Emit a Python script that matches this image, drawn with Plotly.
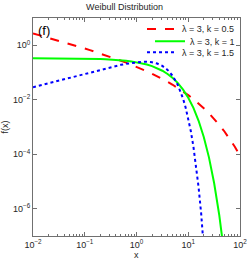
import plotly.graph_objects as go

# x grid (log spaced) and Weibull pdf values read/estimated from the chart (lambda = 3)
x_common = [0.01, 0.01259, 0.01585, 0.01995, 0.02512, 0.03162, 0.03981, 0.05012, 0.0631, 0.07943,
            0.1, 0.1259, 0.1585, 0.1995, 0.2512, 0.3162, 0.3981, 0.5012, 0.631, 0.7943,
            1.0, 1.259, 1.585, 1.995, 2.512, 3.162, 3.981, 5.012, 6.31, 7.943,
            10.0, 12.59, 15.85, 19.95, 25.12, 31.62, 39.81, 50.12, 63.1, 79.43, 100.0]

y_k05 = [2.725, 2.412, 2.132, 1.884, 1.663, 1.465, 1.289, 1.133, 0.9941, 0.8706,
         0.7604, 0.6631, 0.5762, 0.4994, 0.4313, 0.3710, 0.3178, 0.2710, 0.2297, 0.1936,
         0.1621, 0.1346, 0.1109, 0.09044, 0.07293, 0.05813, 0.04571, 0.03540, 0.02695, 0.02012,
         0.01471, 0.01049, 0.007281, 0.004903, 0.003190, 0.001997, 0.001198, 6.843e-4, 3.704e-4, 1.887e-4, 8.975e-5]

x_k1 = x_common[:38]
y_k1 = [0.3322, 0.3320, 0.3316, 0.3311, 0.3305, 0.3298, 0.3289, 0.3278, 0.3264, 0.3246,
        0.3224, 0.3196, 0.3162, 0.3119, 0.3066, 0.3001, 0.2919, 0.2821, 0.2701, 0.2557,
        0.2388, 0.2190, 0.1965, 0.1714, 0.1443, 0.1162, 0.08846, 0.06271, 0.04070, 0.02360,
        0.01189, 0.005017, 0.001693, 4.309e-4, 7.697e-5, 8.809e-6, 5.752e-7, 1.851e-8]

x_k15 = [0.01, 0.01259, 0.01585, 0.01995, 0.02512, 0.03162, 0.03981, 0.05012, 0.0631, 0.07943,
         0.1, 0.1259, 0.1585, 0.1995, 0.2512, 0.3162, 0.3981, 0.5012, 0.631, 0.7943,
         1.0, 1.259, 1.585, 1.995, 2.512, 3.162, 3.981, 5.012, 6.31, 7.079, 7.943, 8.913,
         10.0, 11.22, 12.59, 14.13, 15.85, 17.78, 19.95, 22.39]
y_k15 = [0.02887, 0.03239, 0.03633, 0.04076, 0.04572, 0.05128, 0.05751, 0.06449, 0.07227, 0.08100,
         0.09074, 0.1015, 0.1135, 0.1267, 0.1412, 0.1569, 0.1735, 0.1909, 0.2083, 0.2245,
         0.2381, 0.2468, 0.2475, 0.2370, 0.2127, 0.1739, 0.1249, 0.07457, 0.03434, 0.02047, 0.01095, 5.136e-3,
         0.002077, 6.98e-4, 1.892e-4, 3.963e-5, 6.117e-6, 6.575e-7, 4.584e-8, 1.912e-9]

names = ["\u03bb = 3, k = 0.5", "\u03bb = 3, k = 1", "\u03bb = 3, k = 1.5"]

x_tickvals = [0.01, 0.1, 1, 10, 100]
x_ticktext = ["10<sup>\u22122</sup>", "10<sup>\u22121</sup>", "10<sup>0</sup>", "10<sup>1</sup>", "10<sup>2</sup>"]
y_tickvals = [1e-6, 1e-4, 1e-2, 1]
y_ticktext = ["10<sup>\u22126</sup>", "10<sup>\u22124</sup>", "10<sup>\u22122</sup>", "10<sup>0</sup>"]
x_minor_vals = [m * d for d in (0.01, 0.1, 1, 10) for m in range(2, 10)]

FONT = "Liberation Sans, Arial, sans-serif"
AX = "#707070"

fig = go.Figure()
fig.add_trace(go.Scatter(x=x_common, y=y_k05, mode="lines", name=names[0], legend="legend",
                         line=dict(color="#ff0000", width=2, dash="dash")))
fig.add_trace(go.Scatter(x=x_k1, y=y_k1, mode="lines", name=names[1], legend="legend2",
                         line=dict(color="#00ff00", width=2)))
fig.add_trace(go.Scatter(x=x_k15, y=y_k15, mode="lines", name=names[2], legend="legend3",
                         line=dict(color="#0000ff", width=2, dash="dot")))

leg_common = dict(x=1.0, xanchor="right", yanchor="middle", bgcolor="rgba(0,0,0,0)",
                  font=dict(size=9, color="#262626"), itemwidth=30, borderwidth=0)

fig.update_layout(
    width=249, height=262,
    margin=dict(l=33, r=9, t=18, b=26, autoexpand=False),
    paper_bgcolor="white", plot_bgcolor="white",
    font=dict(family=FONT, size=9, color="#262626"),
    title=dict(text="Weibull Distribution", x=0.5, xanchor="center", y=0.985, yanchor="top",
               font=dict(size=9, color="#262626")),
    showlegend=True,
    legend=dict(y=0.950, **leg_common),
    legend2=dict(y=0.893, **leg_common),
    legend3=dict(y=0.843, **leg_common),
    annotations=[dict(text="(f)", x=0.015, y=0.985, xref="paper", yref="paper",
                      xanchor="left", yanchor="top", showarrow=False,
                      font=dict(size=13, color="#000000")),
                 dict(text="x", x=0.5, y=0, xref="paper", yref="paper", yshift=-19,
                      xanchor="center", yanchor="middle", showarrow=False,
                      font=dict(size=9, color="#262626"))],
)
fig.update_xaxes(type="log", range=[-2, 2], tickvals=x_tickvals, ticktext=x_ticktext,
                 showline=True, linecolor=AX, linewidth=1, mirror="ticks",
                 ticks="inside", ticklen=4, tickcolor=AX, tickwidth=1, showgrid=False, zeroline=False,
                 minor=dict(tickvals=x_minor_vals, ticks="inside", ticklen=2, tickcolor=AX,
                            tickwidth=1, showgrid=False),
                 tickfont=dict(size=9))
fig.update_yaxes(type="log", range=[-7, 1], tickvals=y_tickvals, ticktext=y_ticktext,
                 showline=True, linecolor=AX, linewidth=1, mirror="ticks",
                 ticks="inside", ticklen=4, tickcolor=AX, tickwidth=1, showgrid=False, zeroline=False,
                 title=dict(text="f(x)", standoff=6, font=dict(size=9)),
                 tickfont=dict(size=9))

fig.write_html("out.html", config={"staticPlot": True},
               post_script="document.body.style.margin='0px';")
